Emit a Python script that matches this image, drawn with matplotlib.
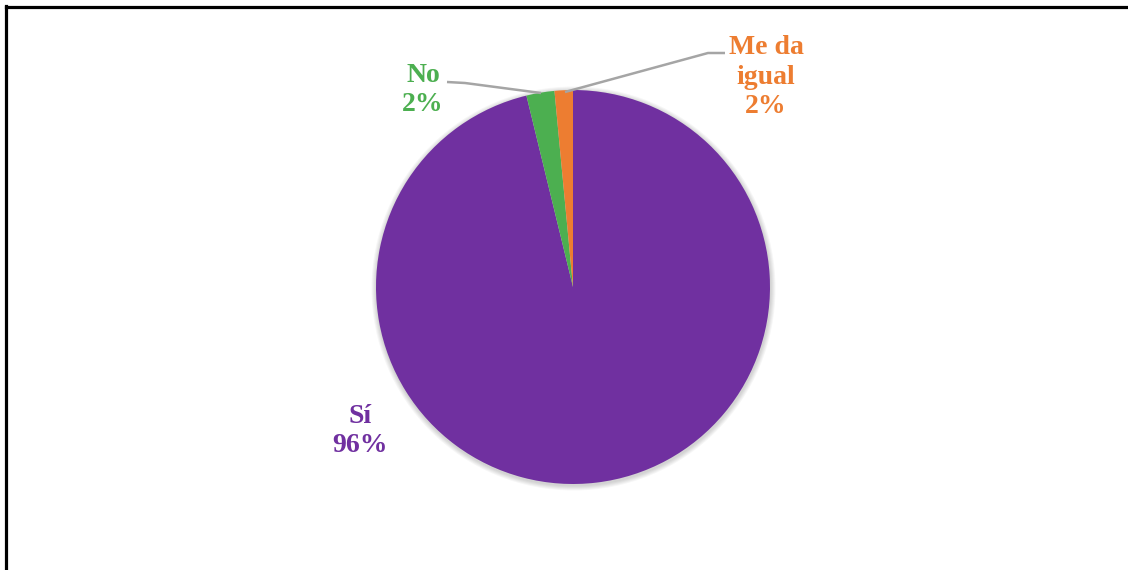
import matplotlib.pyplot as plt
from matplotlib.patches import Circle

labels = ['Sí', 'No', 'Me da\nigual']
values = [96.2, 2.3, 1.5]
colors = ['#7030A0', '#4CAF50', '#ED7D31']

W, H = 1128, 570


def flip(y):
    return H - y


def main():
    plt.rcParams['font.family'] = ['Liberation Serif', 'DejaVu Serif']
    fig = plt.figure(figsize=(W / 100, H / 100), dpi=100)
    ax = fig.add_axes([0, 0, 1, 1])
    ax.set_xlim(0, W)
    ax.set_ylim(0, H)
    ax.set_aspect('equal')
    ax.axis('off')

    cx, cy, r = 573, flip(287), 197

    # soft shadow round the pie
    for k in range(1, 6):
        ax.add_patch(Circle((cx + 0.5, cy - 1.5), r + k, color='#000000',
                            alpha=0.035, lw=0, zorder=1))

    ax.pie(values, colors=colors, startangle=90, counterclock=False,
           center=(cx, cy), radius=r, frame=True,
           wedgeprops=dict(linewidth=0, zorder=2))
    ax.set_xlim(0, W)
    ax.set_ylim(0, H)
    ax.axis('off')

    pct = ['{:.0f}%'.format(v) for v in values]
    fs = 20
    ls = 1.25
    ax.text(360, flip(431), labels[0] + '\n' + pct[0], color=colors[0],
            ha='center', va='center', fontsize=fs, fontweight='bold',
            linespacing=ls)
    ax.text(423, flip(90), labels[1] + '\n' + pct[1], color=colors[1],
            ha='center', va='center', fontsize=fs, fontweight='bold',
            linespacing=ls)
    ax.text(766, flip(77), labels[2] + '\n' + pct[2], color=colors[2],
            ha='center', va='center', fontsize=fs, fontweight='bold',
            linespacing=ls)

    # leader lines
    ax.plot([447, 465, 541], [flip(82), flip(83), flip(93)],
            color='#A5A5A5', lw=1.8, zorder=3, solid_capstyle='butt')
    ax.plot([725, 708, 565], [flip(53), flip(53), flip(92)],
            color='#A5A5A5', lw=1.8, zorder=3, solid_capstyle='butt')

    # frame lines
    ax.plot([6, 6], [0, flip(6)], color='black', lw=2.3,
            solid_capstyle='projecting')
    ax.plot([6, W], [flip(7), flip(7)], color='black', lw=2.3)

    fig.savefig('out.png', dpi=100)


if __name__ == '__main__':
    main()
